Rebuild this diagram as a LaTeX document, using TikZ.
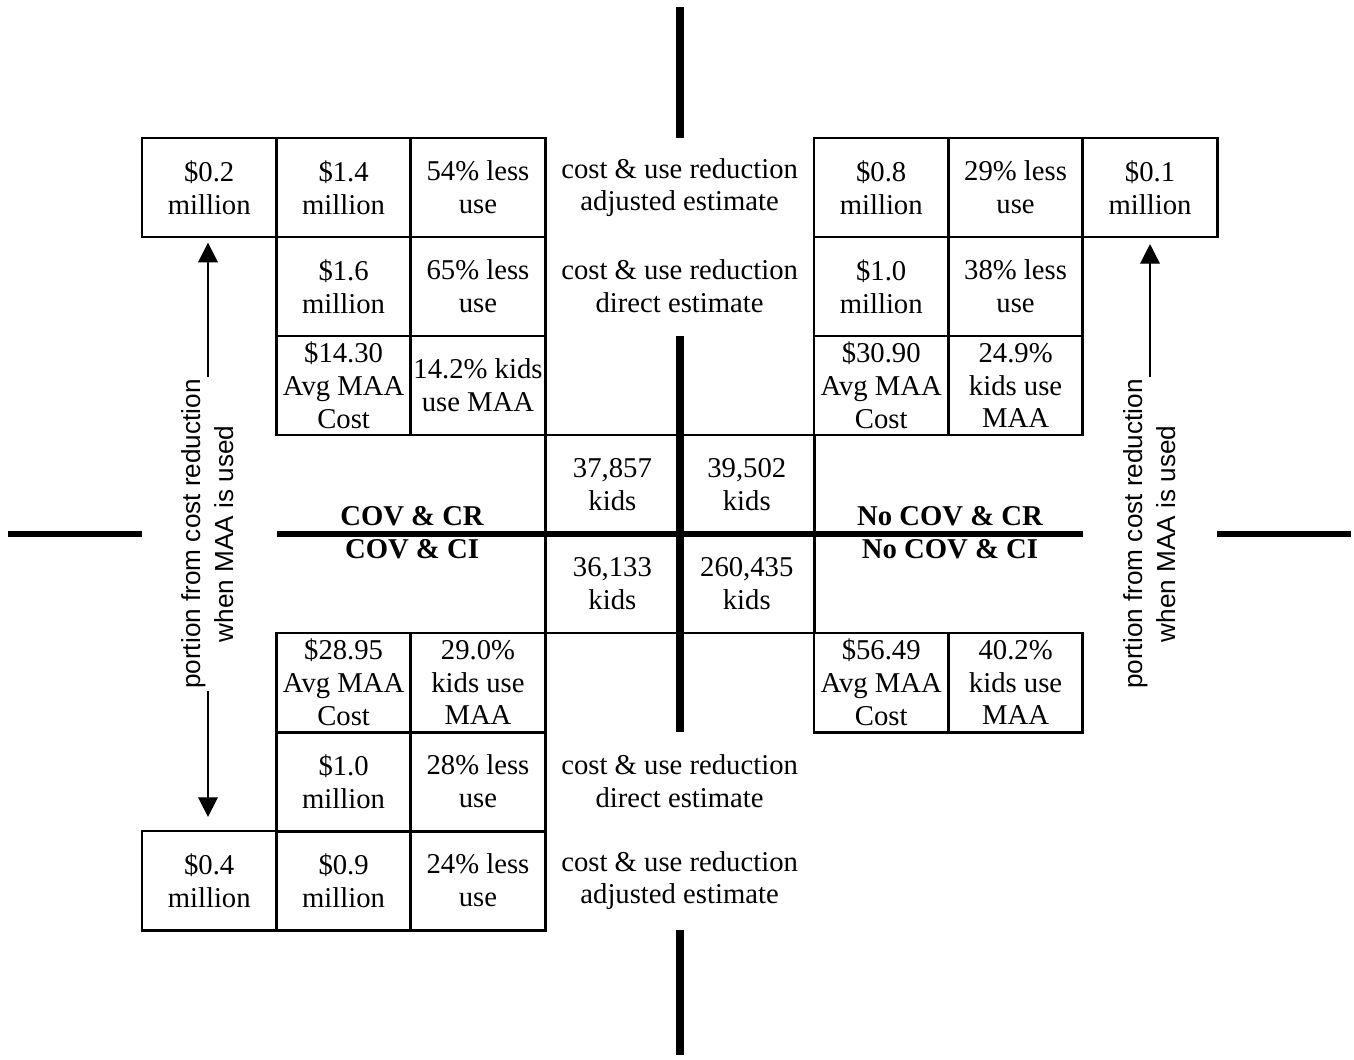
\documentclass[tikz,border=0pt]{standalone}
\usepackage{fontspec}
\setmainfont{Liberation Serif}
\newfontfamily\sanslabel{Liberation Sans}
\usetikzlibrary{arrows.meta}
\newcommand\bodysize{\fontsize{20.4}{23.3}\selectfont}

\begin{document}
\begin{tikzpicture}[
  x=0.025cm,
  y=-0.025cm,
  font=\bodysize,
  cell/.style={
    draw,
    line width=2.1pt,
    minimum width=3.36cm,
    minimum height=2.475cm,
    inner sep=0pt,
    outer sep=0pt,
    align=center,
  },
  note/.style={
    cell,
    draw=none,
    minimum width=6.72cm,
  },
  grp/.style={
    font=\bodysize\bfseries,
    inner sep=0pt,
    anchor=base,
  },
  side/.style={
    font=\sanslabel\fontsize{18.6}{23.5}\selectfont,
    rotate=90,
    align=center,
    inner sep=1pt,
  },
  portion/.style={
    -{Triangle[length=14pt,width=14pt]},
    line width=1pt,
  },
  axisH/.style={line width=4.3pt},
  axisV/.style={line width=5.7pt},
]
  \useasboundingbox (0,0) rectangle (1354,1059);

  % top rows: cost & use reduction
  \node[cell] (crAdjPortion) at (209.2,187.5) {\$0.2\\million};
  \node[cell] (crAdjCost) at (343.6,187.5) {\$1.4\\million};
  \node[cell] (crAdjUse) at (478.0,187.5) {54\% less\\use};
  \node[note] (topAdjNote) at (679.6,187.5) {cost \& use reduction\\adjusted estimate};
  \node[cell] (ncrAdjCost) at (881.2,187.5) {\$0.8\\million};
  \node[cell] (ncrAdjUse) at (1015.6,187.5) {29\% less\\use};
  \node[cell] (ncrAdjPortion) at (1150.0,187.5) {\$0.1\\million};

  \node[cell] (crDirCost) at (343.6,286.5) {\$1.6\\million};
  \node[cell] (crDirUse) at (478.0,286.5) {65\% less\\use};
  \node[note] (topDirNote) at (679.6,286.5) {cost \& use reduction\\direct estimate};
  \node[cell] (ncrDirCost) at (881.2,286.5) {\$1.0\\million};
  \node[cell] (ncrDirUse) at (1015.6,286.5) {38\% less\\use};

  \node[cell] (crAvg) at (343.6,385.5) {\$14.30\\Avg MAA\\Cost};
  \node[cell] (crShare) at (478.0,385.5) {14.2\% kids\\use MAA};
  \node[cell] (ncrAvg) at (881.2,385.5) {\$30.90\\Avg MAA\\Cost};
  \node[cell] (ncrShare) at (1015.6,385.5) {24.9\%\\kids use\\MAA};

  % centre: kids per group
  \node[cell] (kidsCR) at (612.4,484.5) {37,857\\kids};
  \node[cell] (kidsNCR) at (746.8,484.5) {39,502\\kids};
  \node[cell] (kidsCI) at (612.4,583.5) {36,133\\kids};
  \node[cell] (kidsNCI) at (746.8,583.5) {260,435\\kids};

  \node[grp] (grpCR) at (412,525) {COV \& CR};
  \node[grp] (grpCI) at (412,558) {COV \& CI};
  \node[grp] (grpNCR) at (950,525) {No COV \& CR};
  \node[grp] (grpNCI) at (950,558) {No COV \& CI};

  % bottom rows
  \node[cell] (ciAvg) at (343.6,682.5) {\$28.95\\Avg MAA\\Cost};
  \node[cell] (ciShare) at (478.0,682.5) {29.0\%\\kids use\\MAA};
  \node[cell] (nciAvg) at (881.2,682.5) {\$56.49\\Avg MAA\\Cost};
  \node[cell] (nciShare) at (1015.6,682.5) {40.2\%\\kids use\\MAA};

  \node[cell] (ciDirCost) at (343.6,781.5) {\$1.0\\million};
  \node[cell] (ciDirUse) at (478.0,781.5) {28\% less\\use};
  \node[note] (botDirNote) at (679.6,781.5) {cost \& use reduction\\direct estimate};

  \node[cell] (ciAdjPortion) at (209.2,880.5) {\$0.4\\million};
  \node[cell] (ciAdjCost) at (343.6,880.5) {\$0.9\\million};
  \node[cell] (ciAdjUse) at (478.0,880.5) {24\% less\\use};
  \node[note] (botAdjNote) at (679.6,880.5) {cost \& use reduction\\adjusted estimate};

  % side labels
  \node[side] (lblL) at (208,534) {portion from cost reduction\\when MAA is used};
  \node[side] (lblR) at (1150,534) {portion from cost reduction\\when MAA is used};

  \draw[portion, shorten >=4pt] (lblL.east) -- (lblL.east |- crAdjPortion.south);
  \draw[portion, shorten >=10pt] (lblL.west) -- (lblL.west |- ciAdjPortion.north);
  \draw[portion, shorten >=5pt] (lblR.east) -- (lblR.east |- ncrAdjPortion.south);

  % axes
  \draw[axisH] (8,534) -- (142,534);
  \draw[axisH] (277,534) -- (1083,534);
  \draw[axisH] (1217,534) -- (1351,534);
  \draw[axisV] (680,7) -- (680,138);
  \draw[axisV] (680,336) -- (680,732);
  \draw[axisV] (680,930) -- (680,1055);
\end{tikzpicture}
\end{document}
